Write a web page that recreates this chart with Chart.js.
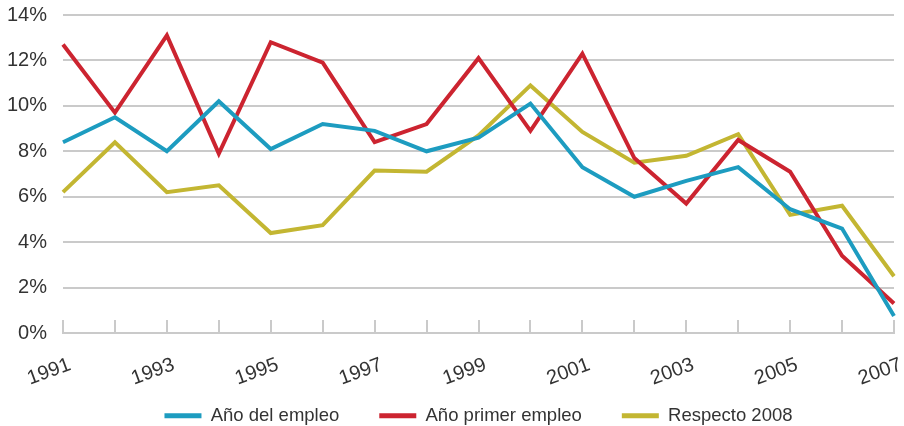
<!DOCTYPE html>
<html>
<head>
<meta charset="utf-8">
<script src="https://cdn.jsdelivr.net/npm/chart.js@4.4.1/dist/chart.umd.min.js"></script>
<style>
  body { margin: 0; background: #fff; }
</style>
</head>
<body>
<canvas id="grafico" width="904" height="426"></canvas>
<script>
const anios = ['1991', '1992', '1993', '1994', '1995', '1996', '1997', '1998', '1999',
  '2000', '2001', '2002', '2003', '2004', '2005', '2006', '2007']

const anioDelEmpleo = [8.4, 9.5, 8.0, 10.2, 8.1, 9.2, 8.9, 8.0, 8.6, 10.1, 7.3, 6.0, 6.7, 7.3, 5.45, 4.6, 0.75]
const anioPrimerEmpleo = [12.7, 9.7, 13.1, 7.9, 12.8, 11.9, 8.4, 9.2, 12.1, 8.9, 12.3, 7.7, 5.7, 8.5, 7.1, 3.4, 1.3]
const respecto2008 = [6.2, 8.4, 6.2, 6.5, 4.4, 4.75, 7.15, 7.1, 8.7, 10.9, 8.85, 7.5, 7.8, 8.75, 5.2, 5.6, 2.5]

const nombresSeries = ['Año del empleo', 'Año primer empleo', 'Respecto 2008']
const coloresSeries = ['#1d9cc0', '#cc2430', '#c3b632']

const colorGris = '#cacaca'
const colorTexto = '#333333'

const construirSerie = (nombre, valores, color) => {
    return {
        label: nombre,
        data: valores,
        borderColor: color,
        backgroundColor: color,
        borderWidth: 4,
        pointRadius: 0,
        tension: 0
    }
}

const datosGrafico = {
    labels: anios,
    datasets: [
        construirSerie(nombresSeries[0], anioDelEmpleo, coloresSeries[0]),
        construirSerie(nombresSeries[1], anioPrimerEmpleo, coloresSeries[1]),
        construirSerie(nombresSeries[2], respecto2008, coloresSeries[2])
    ]
}

// las etiquetas del eje x bajan hasta la leyenda, no recortarlas
const etiquetasSinRecorte = {
    id: 'etiquetasSinRecorte',
    afterLayout: (chart) => {
        chart.scales.x.bottom = chart.height
    }
}

const opciones = {
    responsive: false,
    animation: false,
    layout: {
        padding: { top: 15, right: 10, bottom: -9, left: 0 }
    },
    plugins: {
        tooltip: { enabled: false },
        legend: {
            position: 'bottom',
            fullSize: false,
            labels: {
                boxWidth: 37,
                boxHeight: 5,
                padding: 40,
                color: colorTexto,
                font: { family: 'Liberation Sans', size: 18.5 },
                generateLabels: (chart) => {
                    const etiquetas = Chart.defaults.plugins.legend.labels.generateLabels(chart)
                    etiquetas.forEach((etiqueta) => {
                        etiqueta.lineWidth = 0
                    })
                    return etiquetas
                }
            }
        }
    },
    scales: {
        x: {
            afterFit: (escala) => {
                escala.height = 33.5
                escala.paddingLeft = 0
                escala.paddingRight = 0
            },
            border: { color: colorGris, width: 2 },
            grid: {
                drawOnChartArea: false,
                color: colorGris,
                lineWidth: 2,
                tickLength: -13
            },
            ticks: {
                autoSkip: false,
                minRotation: 20,
                maxRotation: 20,
                padding: 33,
                labelOffset: 7,
                color: colorTexto,
                font: { family: 'Liberation Sans', size: 20 },
                callback: function (valor, indice) {
                    return indice % 2 === 0 ? this.getLabelForValue(valor) : ''
                }
            }
        },
        y: {
            min: 0,
            max: 14,
            afterFit: (escala) => {
                escala.width = 63
                escala.paddingTop = 0
                escala.paddingBottom = 0
            },
            border: { display: false },
            grid: {
                color: colorGris,
                lineWidth: 2,
                drawTicks: false
            },
            ticks: {
                stepSize: 2,
                padding: 16,
                color: colorTexto,
                font: { family: 'Liberation Sans', size: 20 },
                callback: (valor) => valor + '%'
            }
        }
    }
}

const lienzo = document.querySelector('#grafico')
const grafico = new Chart(lienzo, {
    type: 'line',
    data: datosGrafico,
    options: opciones,
    plugins: [etiquetasSinRecorte]
})
</script>
</body>
</html>
